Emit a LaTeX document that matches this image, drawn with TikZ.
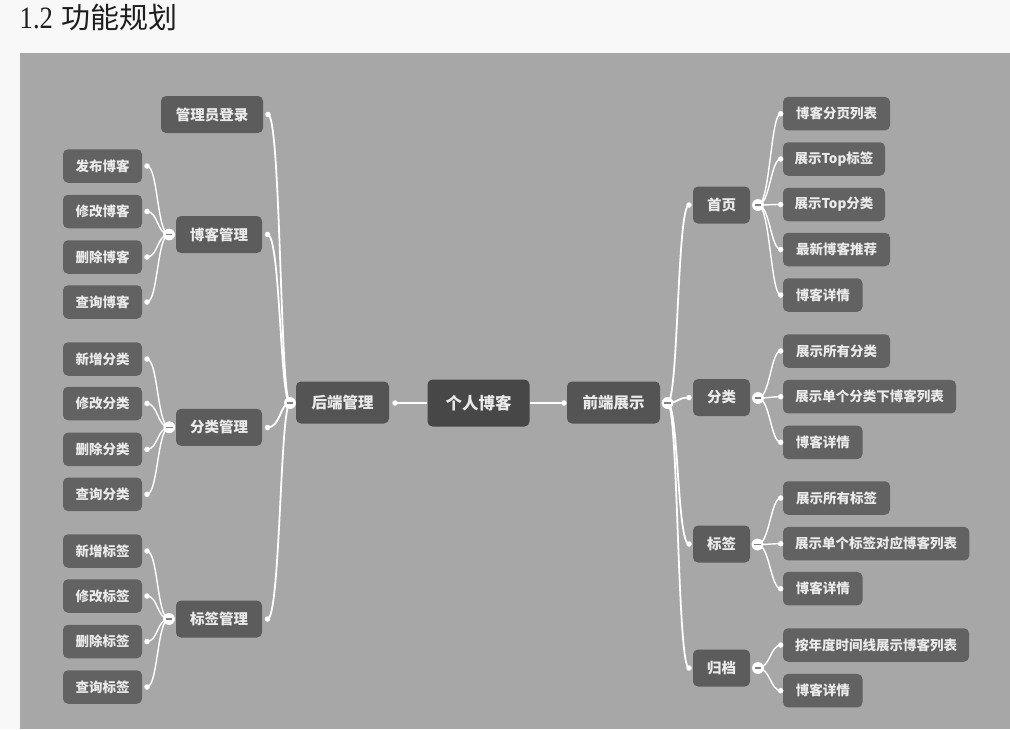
\documentclass[tikz,border=0pt]{standalone}
\usepackage{fontspec}
\setmainfont{Liberation Serif}
\newfontfamily\cjk{Noto Sans CJK SC}
\newfontfamily\titlenum{Liberation Serif}[FakeStretch=0.86]
\definecolor{pagebg}{HTML}{F8F8F8}
\definecolor{canvas}{HTML}{A7A7A7}
\definecolor{leafgray}{HTML}{626262}
\definecolor{midgray}{HTML}{5C5C5C}
\definecolor{maingray}{HTML}{545454}
\definecolor{rootgray}{HTML}{474747}
\definecolor{txt}{HTML}{EAEAEA}
\definecolor{titletxt}{HTML}{1E1E1E}
\tikzset{
  box/.style={rectangle, rounded corners=5pt, inner sep=0pt, text=txt, align=center},
  leafbox/.style={box, fill=leafgray, minimum height=33.5pt, font=\cjk\bfseries\fontsize{13.5}{14}\selectfont},
  lvlbox/.style={box, fill=midgray, minimum height=37pt, font=\cjk\bfseries\fontsize{14.5}{15}\selectfont},
  mainbox/.style={box, fill=maingray, minimum width=93pt, minimum height=42pt, font=\cjk\bfseries\fontsize{15.5}{16}\selectfont},
  rootbox/.style={box, fill=rootgray, minimum width=102pt, minimum height=47pt, font=\cjk\bfseries\fontsize{16.5}{17}\selectfont},
  dot/.style={circle, fill=white, inner sep=0pt, minimum size=5.5pt},
  coll/.style={circle, fill=white, inner sep=0pt, minimum size=11.5pt,
    path picture={\draw[line width=1.6pt, color=gray] ([xshift=-3.2pt]path picture bounding box.center) -- ([xshift=3.2pt]path picture bounding box.center);}},
  link/.style={draw=white, line width=1.4pt},
  trunk/.style={draw=white, line width=1.8pt},
}
\begin{document}
\begin{tikzpicture}[x=1pt,y=-1pt]
\fill[pagebg] (0,0) rectangle (1010,729);
\fill[canvas] (20,52.5) rectangle (1010,729);
\useasboundingbox (0,0) rectangle (1010,729);
% title
\node[anchor=base west, inner sep=0pt, text=titletxt] (title) at (19.5,28)
  {{\titlenum\fontsize{31}{32}\selectfont 1.2}\hspace{8pt}{\cjk\fontsize{29}{30}\selectfont 功能规划}};

% root and main branches
\node[rootbox] (root) at (478.5,403) {个人博客};
\node[mainbox] (back) at (342.5,402.5) {后端管理};
\node[mainbox] (front) at (613.5,402.5) {前端展示};
\node[dot] (backdot) at (395,403) {};
\node[dot] (frontdot) at (564,403) {};
\node[coll] (backc) at (290,403) {};
\node[coll] (frontc) at (667.5,403) {};
\draw[white, line width=2.2pt] (root.west) -- (backdot.center);
\draw[white, line width=2.2pt] (root.east) -- (frontdot.center);

% ---------- left side level 1 ----------
\node[lvlbox, minimum width=102pt] (login) at (212,114.5) {管理员登录};
\node[lvlbox, minimum width=86pt] (blogm) at (219,234.5) {博客管理};
\node[lvlbox, minimum width=86pt] (catm) at (219,427.3) {分类管理};
\node[lvlbox, minimum width=86pt] (tagm) at (219,619) {标签管理};
\node[dot] (logind) at (268,114.5) {};
\node[dot] (blogmd) at (267.5,234.5) {};
\node[dot] (catmd) at (267.5,427.5) {};
\node[dot] (tagmd) at (267.5,619) {};
\foreach \t in {logind,blogmd,catmd,tagmd}
  \draw[trunk] (backc.center) .. controls +(-10,0) and +(13,0) .. (\t.center);
\node[coll] (blogc) at (169,234.5) {};
\node[coll] (catc) at (169.3,427.3) {};
\node[coll] (tagc) at (169,619) {};

% ---------- left leaves ----------
\node[leafbox, minimum width=79pt] (b1) at (102.5,166) {发布博客};
\node[leafbox, minimum width=79pt] (b2) at (102.5,211.5) {修改博客};
\node[leafbox, minimum width=79pt] (b3) at (102.5,257) {删除博客};
\node[leafbox, minimum width=79pt] (b4) at (102.5,302) {查询博客};
\node[leafbox, minimum width=79pt] (c1) at (102.5,359) {新增分类};
\node[leafbox, minimum width=79pt] (c2) at (102.5,403.5) {修改分类};
\node[leafbox, minimum width=79pt] (c3) at (102.5,449.3) {删除分类};
\node[leafbox, minimum width=79pt] (c4) at (102.5,494.3) {查询分类};
\node[leafbox, minimum width=79pt] (t1) at (102.5,551) {新增标签};
\node[leafbox, minimum width=79pt] (t2) at (102.5,596) {修改标签};
\node[leafbox, minimum width=79pt] (t3) at (102.5,641.5) {删除标签};
\node[leafbox, minimum width=79pt] (t4) at (102.5,687) {查询标签};
\foreach \n/\y in {b1/166,b2/211.5,b3/257,b4/302,c1/359,c2/403.5,c3/449.3,c4/494.3,t1/551,t2/596,t3/641.5,t4/687}
  \node[dot] (\n d) at (147,\y) {};
\foreach \n in {b1,b2,b3,b4}
  \draw[link] (blogc.center) .. controls +(-12,0) and +(11,0) .. (\n d.center);
\foreach \n in {c1,c2,c3,c4}
  \draw[link] (catc.center) .. controls +(-12,0) and +(11,0) .. (\n d.center);
\foreach \n in {t1,t2,t3,t4}
  \draw[link] (tagc.center) .. controls +(-12,0) and +(11,0) .. (\n d.center);
\node[coll] at (blogc) {};
\node[coll] at (catc) {};
\node[coll] at (tagc) {};

% ---------- right side level 1 ----------
\node[lvlbox, minimum width=57pt] (home) at (721.5,205) {首页};
\node[lvlbox, minimum width=57pt] (cat) at (721.5,397.5) {分类};
\node[lvlbox, minimum width=57pt] (tag) at (721.5,544) {标签};
\node[lvlbox, minimum width=57pt] (arch) at (721.5,668) {归档};
\node[dot] (homed) at (689,205) {};
\node[dot] (catd) at (689,397.5) {};
\node[dot] (tagd) at (689,544) {};
\node[dot] (archd) at (689,668) {};
\foreach \t in {homed,catd,tagd,archd}
  \draw[trunk] (frontc.center) .. controls +(11,0) and +(-12,0) .. (\t.center);
\node[coll] at (backc) {};
\node[coll] at (frontc) {};
\node[coll] (homec) at (758,205) {};
\node[coll] (catcc) at (758,398) {};
\node[coll] (tagcc) at (757.5,544.5) {};
\node[coll] (archc) at (758,668) {};

% ---------- right leaves ----------
\node[leafbox, minimum width=107pt] (h1) at (836.5,113.7) {博客分页列表};
\node[leafbox, minimum width=102pt] (h2) at (834,159) {展示Top标签};
\node[leafbox, minimum width=102pt] (h3) at (834,204.5) {展示Top分类};
\node[leafbox, minimum width=107pt] (h4) at (836.5,249.5) {最新博客推荐};
\node[leafbox, minimum width=79.5pt] (h5) at (822.75,295) {博客详情};
\node[leafbox, minimum width=107pt] (k1) at (836.5,351) {展示所有分类};
\node[leafbox, minimum width=173pt] (k2) at (869.5,396.7) {展示单个分类下博客列表};
\node[leafbox, minimum width=79.5pt] (k3) at (822.75,442.3) {博客详情};
\node[leafbox, minimum width=107pt] (g1) at (836.5,498) {展示所有标签};
\node[leafbox, minimum width=186.3pt] (g2) at (876.15,543.7) {展示单个标签对应博客列表};
\node[leafbox, minimum width=79.5pt] (g3) at (822.75,588.7) {博客详情};
\node[leafbox, minimum width=186pt] (a1) at (876,645) {按年度时间线展示博客列表};
\node[leafbox, minimum width=79.5pt] (a2) at (822.75,690.7) {博客详情};
\foreach \n/\y in {h1/113.7,h2/159,h3/204.5,h4/249.5,h5/295,k1/351,k2/396.7,k3/442.3,g1/498,g2/543.7,g3/588.7,a1/645,a2/690.7}
  \node[dot] (\n d) at (780.7,\y) {};
\foreach \n in {h1,h2,h3,h4,h5}
  \draw[link] (homec.center) .. controls +(12,0) and +(-10,0) .. (\n d.center);
\foreach \n in {k1,k2,k3}
  \draw[link] (catcc.center) .. controls +(12,0) and +(-10,0) .. (\n d.center);
\foreach \n in {g1,g2,g3}
  \draw[link] (tagcc.center) .. controls +(12,0) and +(-10,0) .. (\n d.center);
\foreach \n in {a1,a2}
  \draw[link] (archc.center) .. controls +(12,0) and +(-10,0) .. (\n d.center);
\node[coll] at (homec) {};
\node[coll] at (catcc) {};
\node[coll] at (tagcc) {};
\node[coll] at (archc) {};
\end{tikzpicture}
\end{document}
